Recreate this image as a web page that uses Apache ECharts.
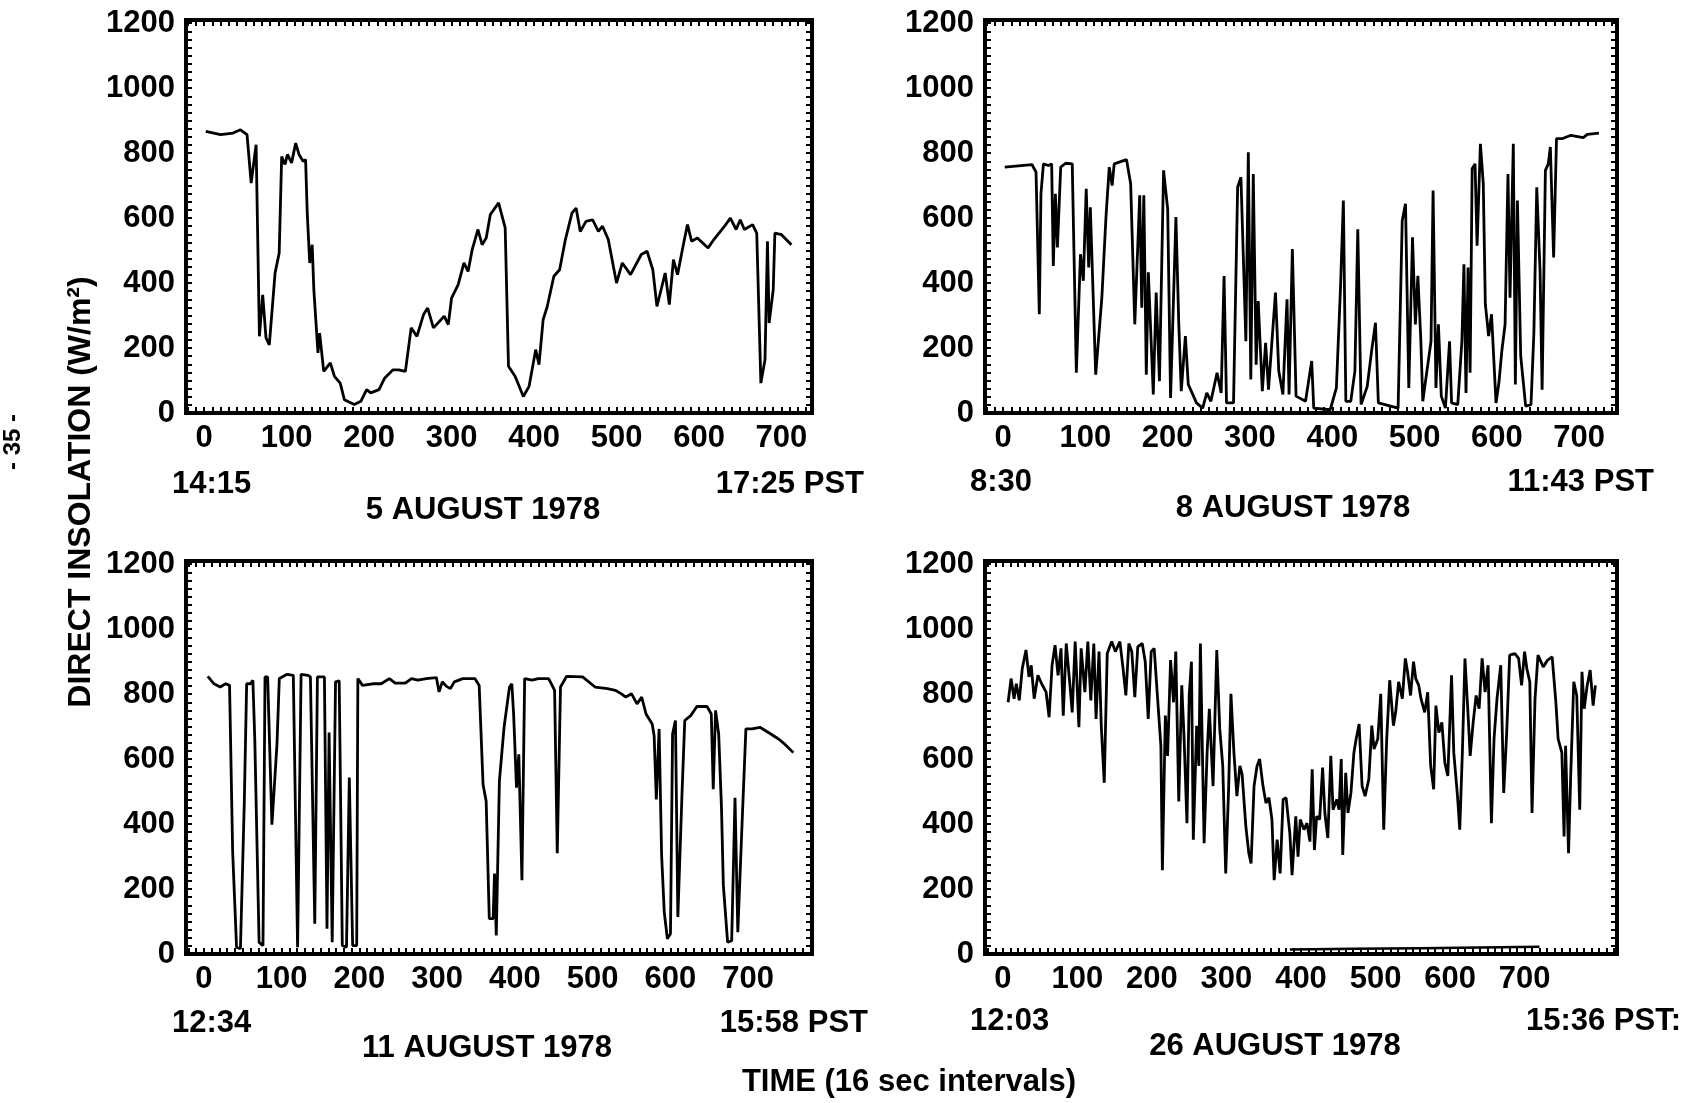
<!DOCTYPE html>
<html>
<head>
<meta charset="utf-8">
<script src="https://cdn.jsdelivr.net/npm/echarts@6/dist/echarts.min.js"></script>
<style>
  html, body { margin: 0; padding: 0; background: #fff; }
  #chart { width: 1690px; height: 1103px; }
</style>
</head>
<body>
<div id="chart"></div>
<script>
// tick labels
var xTicks = [0, 100, 200, 300, 400, 500, 600, 700];
var yTicks = [0, 200, 400, 600, 800, 1000, 1200];

// 5 AUGUST 1978  [interval, W/m2]
var aug5 = [[2,867],[20,857],[35,862],[44,872],[52,857],[57,708],[63,826],[67,236],[71,364],[75,231],[79,210],
  [86,431],[91,493],[94,790],[98,765],[101,796],[106,770],[111,831],[115,796],[120,775],[123,780],[125,616],
  [128,462],[131,518],[133,380],[138,185],[140,246],[145,128],[153,154],[158,113],[165,92],[170,41],[182,26],
  [190,36],[197,72],[202,62],[212,72],[219,108],[229,133],[236,133],[244,128],[251,262],[258,236],[266,303],
  [271,323],[278,262],[291,298],[296,272],[300,354],[308,395],[315,462],[320,436],[325,503],[332,565],[337,518],
  [342,539],[347,611],[357,647],[365,570],[369,144],[377,113],[387,51],[394,82],[402,195],[406,149],[411,287],
  [416,328],[424,421],[431,441],[438,534],[446,616],[451,631],[456,559],[463,590],[471,595],[478,559],[483,575],
  [490,534],[500,400],[507,462],[517,426],[530,488],[537,498],[544,441],[549,328],[559,431],[564,334],[569,472],
  [574,426],[581,518],[586,580],[591,529],[598,539],[611,508],[618,534],[631,575],[638,600],[645,565],[650,595],
  [655,565],[665,580],[670,554],[675,92],[680,164],[683,529],[685,277],[690,380],[692,554],[700,549],[712,518]];

// 8 AUGUST 1978
var aug8 = [[2,757],[35,765],[40,742],[44,304],[46,675],[49,767],[55,762],[59,767],[61,453],[63.5,675],[66,510],
  [70,757],[76,769],[84,767],[89,124],[94,489],[97.5,407],[101,690],[104,448],[106,633],[112.5,118],[120,355],
  [125,603],[129,757],[132.5,700],[135,767],[150,780],[155,706],[160,273],[166,670],[168.5,324],[171,670],
  [174,118],[176.5,433],[182.5,57],[186,371],[190,98],[195,747],[200,628],[203.5,46],[210,603],[213.5,273],
  [216.5,67],[221.5,237],[225,88],[235,31],[242.5,15],[247.5,62],[252.5,36],[260,124],[265,62],[268.5,422],
  [271.5,31],[280,31],[285,695],[289,726],[291,731],[295,221],[298,803],[301,103],[304,736],[307.5,149],
  [310,345],[315,67],[319,216],[322.5,72],[326,196],[331,371],[335,129],[340,57],[345,350],[347.5,57],
  [351.5,505],[356,52],[367.5,36],[375,160],[377.5,15],[397.5,10],[405,77],[410,386],[413.5,654],[416.5,36],
  [422.5,36],[427.5,129],[431,566],[435,26],[442.5,82],[447.5,185],[452.5,278],[456,31],[480,15],[485,592],
  [489,644],[493,77],[497.5,541],[501,273],[504,422],[507.5,232],[510,36],[515,129],[520,221],[522.5,685],
  [526,77],[529,273],[532.5,52],[537.5,15],[542.5,221],[545,31],[552.5,26],[557.5,221],[560,458],[562.5,62],
  [565,448],[567.5,124],[570,752],[573.5,767],[576,515],[580,829],[583.5,706],[586,335],[590,237],[593.5,304],
  [599,31],[602.5,93],[606,190],[610,273],[613.5,736],[616,355],[620,829],[622.5,88],[625,654],[629,175],
  [635,21],[641.5,26],[645,247],[648.5,695],[652.5,438],[655,72],[659,747],[662.5,767],[665,819],[669,479],
  [672.5,845],[680,845],[690,855],[705,848],[710,858],[724,862]];

// 11 AUGUST 1978
var aug11 = [[5,855],[13,832],[21,822],[28,832],[33,827],[37,315],[42,21],[47,16],[52,470],[55,832],[60,832],
  [63,843],[65.5,657],[71,36],[76,26],[78.6,853],[82,853],[87.5,398],[94,646],[97,848],[107,861],[115,858],
  [120.5,21],[125,861],[134,858],[137,853],[142.6,93],[146,853],[155,853],[158.3,78],[161,682],[165,36],
  [169.3,838],[174,841],[178,26],[183.4,21],[187,543],[191.3,26],[196.5,26],[198,848],[204,827],[217,832],
  [228,832],[238.5,848],[246,834],[259,834],[267,848],[275,843],[286,848],[299,851],[302.4,807],[306.6,838],
  [312,824],[317,817],[322,838],[333,848],[348.5,848],[354,827],[359,522],[363,470],[367,109],[372,109],
  [373.7,248],[376,57],[380,532],[386,698],[393,822],[396,832],[398.3,739],[402,512],[405,615],[409,227],
  [412.5,848],[422,843],[430,848],[443,848],[445.5,838],[451,812],[454.4,310],[458.6,822],[466.5,855],
  [487,853],[503,822],[519,817],[529,812],[537,801],[542.5,791],[550,801],[557,770],[563,791],[568.6,739],
  [576.5,708],[579,672],[581.8,476],[585.4,693],[588.6,305],[592,129],[596,47],[600,62],[602.7,677],[606.4,719],
  [609.5,114],[614.8,491],[618.4,719],[626,734],[634,762],[647,762],[652.5,739],[655,507],[658,750],[662,677],
  [665.6,450],[668,212],[673.5,36],[678.7,41],[683,481],[686.6,67],[692,398],[697,693],[705,693],[715,698],
  [726,682],[739,662],[747,646],[758,620]];

// 26 AUGUST 1978
var aug26 = [[7,775],[11,848],[15,786],[18,832],[22,781],[26,879],[31,936],[35,853],[38,889],[42,786],[47,858],
  [52,832],[58,806],[62,729],[66,889],[70,951],[74,858],[78,941],[81,734],[85,956],[90,827],[93,744],[97,962],
  [102,698],[105,941],[110,806],[114,962],[118,781],[122,956],[125,724],[129,931],[132,703],[136,527],[140,925],
  [146,962],[151,931],[157,962],[161,884],[165,796],[169,956],[173,931],[177,791],[181,946],[187,956],[191,900],
  [195,724],[199,931],[203,941],[207,806],[212,641],[214,258],[218,734],[221,610],[225,905],[229,775],[232,931],
  [236,470],[240,827],[243,672],[247,403],[250,796],[253,900],[255.5,352],[260,703],[263,579],[265,956],
  [270,341],[274,620],[277,755],[282,517],[287,936],[291,693],[295,579],[299,248],[303,517],[306,801],[310,620],
  [314,486],[318,579],[321,553],[326,393],[330,310],[333,279],[337,517],[341,579],[344.5,600],[349,517],
  [353,465],[357,481],[361,414],[364,227],[368,352],[372,248],[376,476],[380,481],[385,372],[388,243],[393,424],
  [396,300],[399,414],[404,383],[408,403],[412,346],[415,569],[418,320],[421,424],[425,414],[429,574],[432,434],
  [436,357],[440,610],[443,444],[448,476],[451,444],[454,600],[456,305],[460,558],[463,434],[467,496],[471,620],
  [474,662],[478,708],[482,517],[486,486],[491,538],[495,703],[498,631],[503,662],[507,801],[511,383],[515,662],
  [519,843],[524,703],[527,744],[531,838],[536,786],[540,910],[543,869],[547,796],[551,900],[554,848],[558,827],
  [561,786],[566,744],[570,806],[574,579],[578,507],[581,765],[585,682],[589,713],[593,589],[597,548],[602,858],
  [605,620],[610,486],[613,383],[616.5,620],[620,910],[624,744],[627,610],[631,713],[635,796],[639,755],
  [643,910],[647,806],[651,889],[655.5,403],[659,662],[663,786],[668,889],[672,496],[676,682],[680,920],
  [687,925],[692,910],[696,827],[700,931],[703,879],[707,838],[710,434],[714,786],[718,920],[725,884],[731,905],
  [737,915],[742,775],[745,662],[750,620],[753,362],[755,641],[759,310],[762,558],[766,838],[770,796],[774,444],
  [777,869],[780,755],[784,827],[788,874],[792,765],[795,827]];
// faint trace along the bottom of the 26 August panel
var aug26Base = [[385,14],[470,16],[560,18],[640,20],[720,22]];

var panels = [
  { data: aug5,  box: { left: 186, top: 20,  width: 626, height: 393 }, xMin: -22, xMax: 737 },
  { data: aug8,  box: { left: 985, top: 20,  width: 632, height: 393 }, xMin: -22, xMax: 746 },
  { data: aug11, box: { left: 186, top: 561, width: 626, height: 393 }, xMin: -23, xMax: 782 },
  { data: aug26, box: { left: 985, top: 561, width: 632, height: 393 }, xMin: -24, xMax: 824 }
];
var yMin = 0, yMax = 1210;

var font = "'Liberation Sans', Arial, sans-serif";
var fsize = 31;
var labelStyle = { color: '#000', fontFamily: font, fontWeight: 'bold', fontSize: fsize,
  formatter: function (v) { return String(v); } };

function minorValues(lo, hi, step) {
  var out = [];
  for (var v = Math.ceil(lo / step) * step; v <= hi; v += step) out.push(v);
  return out;
}

var tickStyle = { color: '#000', width: 2 };
var grid = [], xAxis = [], yAxis = [], series = [];
panels.forEach(function (p, i) {
  grid.push(Object.assign({ show: true, borderColor: '#000', borderWidth: 4, backgroundColor: 'transparent' }, p.box));
  var xMinor = minorValues(p.xMin, p.xMax, 10);
  var yMinor = minorValues(yMin, yMax, 25);
  xAxis.push({
    type: 'value', gridIndex: i, min: p.xMin, max: p.xMax, position: 'bottom',
    axisLine: { show: false, onZero: false }, splitLine: { show: false },
    axisTick: { show: true, inside: true, length: 6, customValues: xMinor, lineStyle: tickStyle },
    axisLabel: Object.assign({ margin: 10, customValues: xTicks }, labelStyle)
  });
  xAxis.push({
    type: 'value', gridIndex: i, min: p.xMin, max: p.xMax, position: 'top',
    axisLine: { show: false, onZero: false }, splitLine: { show: false }, axisLabel: { show: false },
    axisTick: { show: true, inside: true, length: 6, customValues: xMinor, lineStyle: tickStyle }
  });
  yAxis.push({
    type: 'value', gridIndex: i, min: yMin, max: yMax, position: 'left',
    axisLine: { show: false, onZero: false }, splitLine: { show: false },
    axisTick: { show: true, inside: true, length: 6, customValues: yMinor, lineStyle: tickStyle },
    axisLabel: Object.assign({ margin: 11, customValues: yTicks }, labelStyle)
  });
  yAxis.push({
    type: 'value', gridIndex: i, min: yMin, max: yMax, position: 'right',
    axisLine: { show: false, onZero: false }, splitLine: { show: false }, axisLabel: { show: false },
    axisTick: { show: true, inside: true, length: 6, customValues: yMinor, lineStyle: tickStyle }
  });
  series.push({
    type: 'line', xAxisIndex: i * 2, yAxisIndex: i * 2, data: p.data,
    showSymbol: false, symbol: 'none', animation: false,
    lineStyle: { color: '#000', width: 2.8 }
  });
});
series.push({
  type: 'line', xAxisIndex: 6, yAxisIndex: 6, data: aug26Base,
  showSymbol: false, symbol: 'none', animation: false,
  lineStyle: { color: '#000', width: 2.5 }
});

function txt(s, x, y, align, size, rot) {
  return {
    type: 'text', x: x, y: y, rotation: rot || 0,
    style: {
      text: s, fill: '#000', textAlign: align, textVerticalAlign: 'middle',
      font: 'bold ' + (size || fsize) + 'px ' + font
    }
  };
}

var graphic = [
  txt('14:15', 172, 484, 'left'), txt('17:25 PST', 864, 484, 'right'), txt('5 AUGUST 1978', 483, 510, 'center'),
  txt('8:30', 970, 482, 'left'), txt('11:43 PST', 1654, 482, 'right'), txt('8 AUGUST 1978', 1293, 508, 'center'),
  txt('12:34', 172, 1023, 'left'), txt('15:58 PST', 868, 1023, 'right'), txt('11 AUGUST 1978', 487, 1048, 'center'),
  txt('12:03', 970, 1021, 'left'), txt('15:36 PST:', 1681, 1021, 'right'), txt('26 AUGUST 1978', 1275, 1046, 'center'),
  txt('TIME (16 sec intervals)', 909, 1082, 'center'),
  txt('DIRECT INSOLATION (W/m\u00b2)', 81, 492, 'center', 32, Math.PI / 2),
  txt('- 35 -', 13, 442, 'center', 24, Math.PI / 2)
];

var chart = echarts.init(document.getElementById('chart'), null, { renderer: 'canvas' });
chart.setOption({
  animation: false,
  backgroundColor: '#fff',
  grid: grid, xAxis: xAxis, yAxis: yAxis, series: series, graphic: graphic
});
</script>
</body>
</html>
